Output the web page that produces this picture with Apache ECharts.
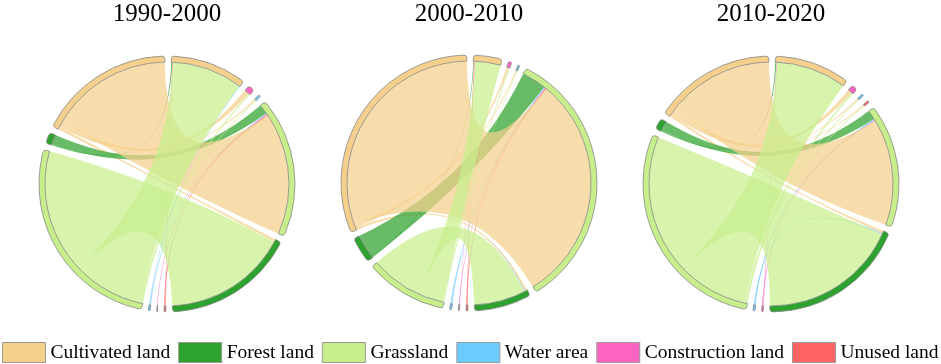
<!DOCTYPE html>
<html>
<head>
<meta charset="utf-8">
<script src="https://cdn.jsdelivr.net/npm/echarts@6/dist/echarts.min.js"></script>
<style>
  html, body { margin: 0; padding: 0; background: #fff; }
  #chordTP { width: 941px; height: 364px; }
</style>
</head>
<body>
<div id="chordTP"></div>
<script>
// land types, legend order
const landTypes = ['Cultivated land', 'Forest land', 'Grassland', 'Water area', 'Construction land', 'Unused land'];
const landColors = ['#f5d08c', '#2ea22e', '#c8ee8c', '#6cccff', '#ff66c4', '#ff6262'];
const periods = [['1990', '2000'], ['2000', '2010'], ['2010', '2020']];

const links1990 = [
  ['Cultivated land', 'Forest land', 1.2],
  ['Cultivated land', 'Construction land', 2.2],
  ['Cultivated land', 'Water area', 0.6],
  ['Forest land', 'Cultivated land', 0.5],
  ['Unused land', 'Cultivated land', 0.3],
  ['Forest land', 'Grassland', 4.5],
  ['Water area', 'Grassland', 0.5],
  ['Construction land', 'Grassland', 0.3],
  ['Unused land', 'Grassland', 0.5],
  ['Cultivated land', 'Grassland', 57],
  ['Grassland', 'Construction land', 0.8],
  ['Grassland', 'Water area', 0.4],
  ['Grassland', 'Cultivated land', 33],
  ['Grassland', 'Forest land', 58],
  ['Water area', 'Cultivated land', 0.3]
];
const links2000 = [
  ['Cultivated land', 'Forest land', 1.2],
  ['Cultivated land', 'Construction land', 1.0],
  ['Cultivated land', 'Water area', 0.5],
  ['Forest land', 'Cultivated land', 0.3],
  ['Unused land', 'Cultivated land', 0.3],
  ['Construction land', 'Cultivated land', 0.2],
  ['Forest land', 'Grassland', 11.5],
  ['Water area', 'Grassland', 0.5],
  ['Construction land', 'Grassland', 0.3],
  ['Unused land', 'Grassland', 0.5],
  ['Cultivated land', 'Grassland', 107],
  ['Grassland', 'Construction land', 0.5],
  ['Grassland', 'Water area', 0.3],
  ['Grassland', 'Cultivated land', 12],
  ['Water area', 'Forest land', 0.4],
  ['Grassland', 'Forest land', 24]
];
const links2010 = [
  ['Cultivated land', 'Forest land', 1.2],
  ['Cultivated land', 'Construction land', 2.0],
  ['Cultivated land', 'Water area', 0.6],
  ['Cultivated land', 'Unused land', 0.5],
  ['Forest land', 'Cultivated land', 0.5],
  ['Construction land', 'Cultivated land', 0.3],
  ['Forest land', 'Grassland', 4.5],
  ['Water area', 'Grassland', 0.5],
  ['Construction land', 'Grassland', 0.4],
  ['Cultivated land', 'Grassland', 50],
  ['Grassland', 'Construction land', 0.8],
  ['Grassland', 'Water area', 0.4],
  ['Grassland', 'Unused land', 0.4],
  ['Grassland', 'Cultivated land', 33],
  ['Water area', 'Forest land', 0.4],
  ['Grassland', 'Forest land', 65]
];
const allLinks = [links1990, links2000, links2010];

// arc order round the circle, clockwise from the top
const targetOrder = ['Cultivated land', 'Construction land', 'Water area', 'Unused land', 'Grassland', 'Forest land'];
const sourceOrder = ['Unused land', 'Construction land', 'Water area', 'Grassland', 'Forest land', 'Cultivated land'];

const centers = [[167, 184], [469, 183], [771, 184]];
const fontName = 'Liberation Serif';

const colorOf = (t) => landColors[landTypes.indexOf(t)];

const buildSeries = (k) => {
  const [y0, y1] = periods[k];
  const links = allLinks[k];
  const used = new Set();
  links.forEach(l => { used.add(l[0] + ' ' + y0); used.add(l[1] + ' ' + y1); });
  const nodes = [];
  targetOrder.forEach(t => {
    const n = t + ' ' + y1;
    if (used.has(n)) nodes.push({ name: n, itemStyle: { color: colorOf(t) } });
  });
  sourceOrder.forEach(t => {
    const n = t + ' ' + y0;
    if (used.has(n)) nodes.push({ name: n, itemStyle: { color: colorOf(t) } });
  });
  return {
    type: 'chord',
    center: centers[k],
    radius: [122, 128],
    startAngle: 88,
    clockwise: true,
    padAngle: 3,
    minAngle: 0,
    label: { show: false },
    itemStyle: { borderColor: '#888', borderWidth: 0.8 },
    lineStyle: { color: 'source', opacity: 0.72 },
    emphasis: { disabled: true },
    data: nodes,
    links: links.map(l => ({ source: l[0] + ' ' + y0, target: l[1] + ' ' + y1, value: l[2] }))
  };
};

let chartDom = document.getElementById('chordTP');
let myChart = echarts.init(chartDom);
let option = {
  animation: false,
  title: periods.map((p, k) => ({
    text: p[0] + '-' + p[1],
    left: centers[k][0],
    top: 2,
    padding: 0,
    textAlign: 'center',
    textStyle: { fontFamily: fontName, fontSize: 25, fontWeight: 'normal', color: '#000' }
  })),
  legend: {
    left: 2,
    top: 342,
    padding: 0,
    icon: 'rect',
    itemWidth: 43,
    itemHeight: 20,
    itemGap: 8,
    itemStyle: { borderColor: '#999', borderWidth: 1 },
    textStyle: { fontFamily: fontName, fontSize: 19.5, color: '#000' },
    data: landTypes
  },
  series: [
    buildSeries(0),
    buildSeries(1),
    buildSeries(2),
    // empty series, only to feed the legend
    ...landTypes.map((t, i) => ({
      type: 'pie',
      name: t,
      data: [],
      showEmptyCircle: false,
      itemStyle: { color: landColors[i] }
    }))
  ]
};
option && myChart.setOption(option);
</script>
</body>
</html>
